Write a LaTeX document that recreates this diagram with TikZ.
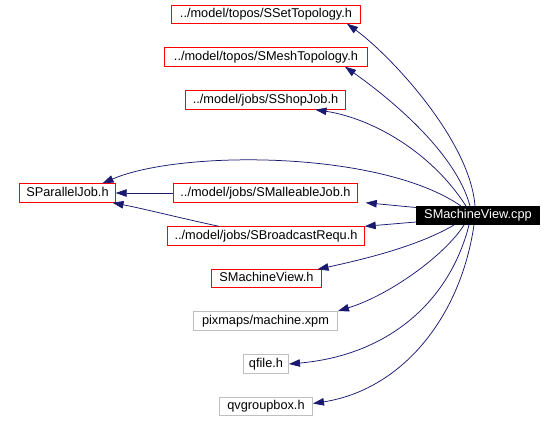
\documentclass[tikz,border=0pt]{standalone}
\usepackage{fontspec}
\setmainfont{Liberation Sans}
\usetikzlibrary{arrows.meta}
\definecolor{edgecol}{rgb}{0.098,0.098,0.439}
\definecolor{boxred}{rgb}{1,0,0}
\colorlet{boxgray}{black!25}
\begin{document}
\begin{tikzpicture}[x=1bp,y=-1bp,
 lbl/.style={inner sep=0pt, font=\fontsize{12.8}{14}\selectfont, anchor=center, text height=9bp, text depth=2.5bp},
 box/.style={lbl},
 graybox/.style={lbl, draw=boxgray, line width=1bp},
 rootbox/.style={lbl, fill=black, draw=black, line width=1bp, text=white},
 redframe/.style={draw=boxred, line width=1bp},
 edge/.style={draw=edgecol, line width=0.75bp, -{Triangle[length=11bp,width=7.5bp]}}]
\useasboundingbox (0,0) rectangle (556,422);
\node[box, minimum width=189bp, minimum height=18bp] (set) at (266,14.5) {../model/topos/SSetTopology.h};
\node[box, minimum width=203bp, minimum height=19bp] (mesh) at (266,57) {../model/topos/SMeshTopology.h};
\node[box, minimum width=160bp, minimum height=19bp] (shop) at (265.5,100) {../model/jobs/SShopJob.h};
\node[box, minimum width=96bp, minimum height=19bp] (par) at (67.5,193) {SParallelJob.h};
\node[box, minimum width=184bp, minimum height=19bp] (mal) at (265.5,193) {../model/jobs/SMalleableJob.h};
\node[rootbox, minimum width=123bp, minimum height=18bp] (cpp) at (478,215.5) {SMachineView.cpp};
\node[box, minimum width=197bp, minimum height=19bp] (brd) at (266,236) {../model/jobs/SBroadcastRequ.h};
\node[box, minimum width=110bp, minimum height=18bp] (mvh) at (266.5,278.5) {SMachineView.h};
\node[graybox, minimum width=144bp, minimum height=19bp] (pix) at (265.5,321) {pixmaps/machine.xpm};
\node[graybox, minimum width=45bp, minimum height=19bp] (qfile) at (266,364) {qfile.h};
\node[graybox, minimum width=93bp, minimum height=18bp] (qvg) at (266,406.5) {qvgroupbox.h};

\foreach \n in {set,mesh,shop,par,mal,brd,mvh}
  \draw[redframe] (\n.north west) rectangle (\n.south east);

\draw[edge] ([xshift=-3bp]cpp.north) .. controls (470,140) and (390,55) .. ([xshift=81bp]set.south);
\draw[edge] ([xshift=-8bp]cpp.north) .. controls (455,150) and (385,95) .. ([xshift=79bp]mesh.south);
\draw[edge] ([xshift=-12bp]cpp.north) .. controls (430,150) and (370,118) .. ([xshift=50bp]shop.south);
\draw[edge] ([xshift=-17bp]cpp.north) .. controls (380,150) and (180,150) .. ([xshift=35bp]par.north);
\draw[edge] (mal.west) -- (par.east);
\draw[edge] ([xshift=-47bp]brd.north) .. controls (180,218) and (145,209) .. ([xshift=45bp]par.south);
\draw[edge] ([yshift=-1.5bp]cpp.north west) -- ([xshift=8bp]mal.south east);
\draw[edge] ([yshift=3bp]cpp.south west) -- (brd.north east);
\draw[edge] ([xshift=-24bp]cpp.south) .. controls (420,245) and (370,258) .. ([xshift=51bp]mvh.north);
\draw[edge] ([xshift=-14bp]cpp.south) .. controls (445,255) and (390,295) .. (pix.north east);
\draw[edge] ([xshift=-9bp]cpp.south) .. controls (450,300) and (390,355) .. (qfile.east);
\draw[edge] ([xshift=-4bp]cpp.south) .. controls (460,320) and (400,390) .. ([yshift=3bp]qvg.east);
\end{tikzpicture}
\end{document}
